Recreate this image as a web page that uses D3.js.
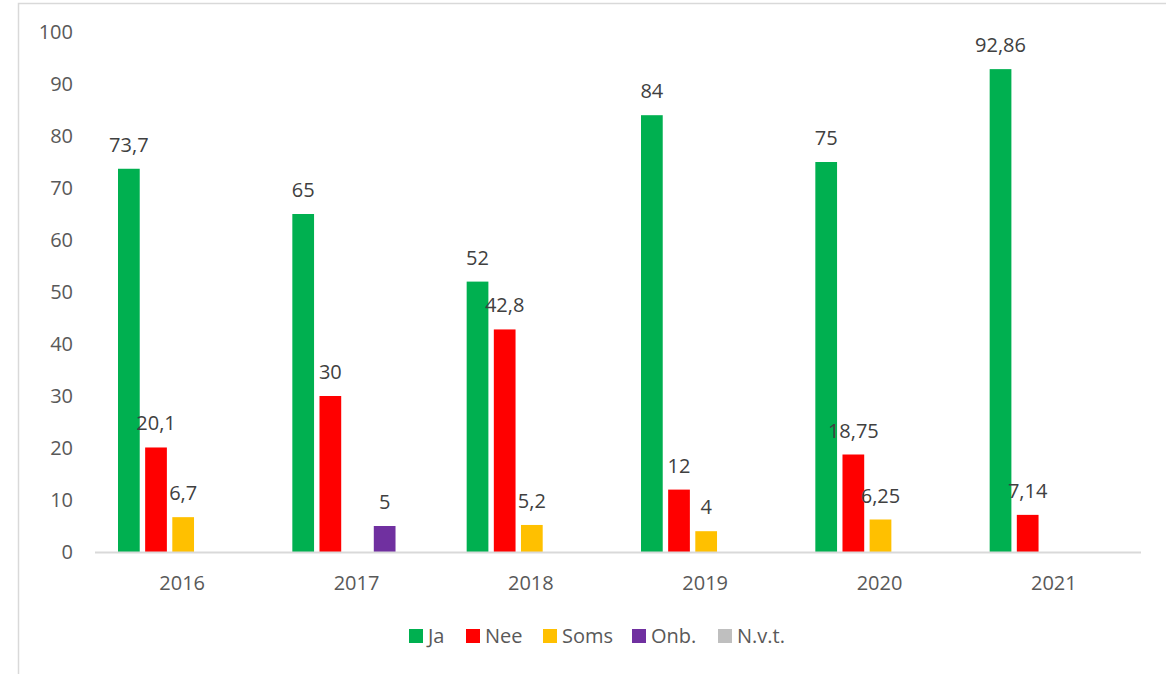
<!DOCTYPE html>
<html>
<head>
<meta charset="utf-8">
<script src="https://cdn.jsdelivr.net/npm/d3@7"></script>
<style>
  body { margin: 0; background: #fff; }
  text { font-family: "Open Sans", "Noto Sans", sans-serif; }
</style>
</head>
<body>
<div id="chart"></div>
<script>
// data
var years = ["2016", "2017", "2018", "2019", "2020", "2021"];
var seriesNames = ["Ja", "Nee", "Soms", "Onb.", "N.v.t."];
var ja = [73.7, 65, 52, 84, 75, 92.86];
var nee = [20.1, 30, 42.8, 12, 18.75, 7.14];
var soms = [6.7, null, 5.2, 4, 6.25, null];
var onb = [null, 5, null, null, null, null];
var nvt = [null, null, null, null, null, null];
var seriesColors = ["#00B050", "#FF0000", "#FFC000", "#7030A0", "#BFBFBF"];
var yTicks = [0, 10, 20, 30, 40, 50, 60, 70, 80, 90, 100];

var seriesValues = [ja, nee, soms, onb, nvt];

var W = 1166, H = 674;
var margin = {top: 32, right: 25, bottom: 122, left: 95},
    width = W - margin.left - margin.right,
    height = H - margin.top - margin.bottom;

var svg = d3.select("#chart").append("svg")
    .attr("width", W)
    .attr("height", H);

// chart frame
svg.append("rect")
    .attr("x", 18.5).attr("y", 3.5)
    .attr("width", W).attr("height", H)
    .attr("fill", "none")
    .attr("stroke", "#d9d9d9")
    .attr("stroke-width", 1.5);

var g = svg.append("g")
    .attr("transform", "translate(" + margin.left + "," + margin.top + ")");

var x0 = d3.scaleBand().domain(years).range([0, width]);
var x1 = d3.scaleBand().domain(seriesNames).range([23, x0.bandwidth() - 21]).paddingInner(0.2);
var y = d3.scaleLinear().domain([0, 100]).range([height, 0]);
var color = d3.scaleOrdinal().domain(seriesNames).range(seriesColors);

// y labels
g.selectAll(".ylab")
    .data(yTicks)
  .enter().append("text")
    .attr("x", -22)
    .attr("y", function(d) { return y(d); })
    .attr("dy", "0.36em")
    .attr("text-anchor", "end")
    .attr("font-size", "20px")
    .attr("fill", "#595959")
    .text(function(d) { return d; });

// bars
var rows = [];
years.forEach(function(yr, i) {
  seriesNames.forEach(function(s, j) {
    var v = seriesValues[j][i];
    if (v != null) rows.push({year: yr, series: s, value: v});
  });
});

g.selectAll(".bar")
    .data(rows)
  .enter().append("rect")
    .attr("x", function(d) { return x0(d.year) + x1(d.series); })
    .attr("y", function(d) { return y(d.value); })
    .attr("width", x1.bandwidth())
    .attr("height", function(d) { return height - y(d.value); })
    .attr("fill", function(d) { return color(d.series); });

// value labels
g.selectAll(".vlab")
    .data(rows)
  .enter().append("text")
    .attr("x", function(d) { return x0(d.year) + x1(d.series) + x1.bandwidth() / 2; })
    .attr("y", function(d) { return y(d.value) - 17; })
    .attr("text-anchor", "middle")
    .attr("font-size", "20px")
    .attr("fill", "#404040")
    .text(function(d) { return String(d.value).replace(".", ","); });

// x axis line
g.append("line")
    .attr("x1", 0).attr("x2", width)
    .attr("y1", height + 0.5).attr("y2", height + 0.5)
    .attr("stroke", "#d9d9d9")
    .attr("stroke-width", 2);

g.selectAll(".xlab")
    .data(years)
  .enter().append("text")
    .attr("x", function(d) { return x0(d) + x0.bandwidth() / 2; })
    .attr("y", height + 38)
    .attr("text-anchor", "middle")
    .attr("font-size", "20px")
    .attr("fill", "#595959")
    .text(function(d) { return d; });

// legend
var legendX = [409, 466, 543, 632, 718];
var legend = svg.selectAll(".leg")
    .data(seriesNames)
  .enter().append("g")
    .attr("transform", function(d, i) { return "translate(" + legendX[i] + ",636)"; });
legend.append("rect")
    .attr("x", 0).attr("y", -7)
    .attr("width", 14).attr("height", 14)
    .attr("fill", function(d) { return color(d); });
legend.append("text")
    .attr("x", 19)
    .attr("y", 0)
    .attr("dy", "0.36em")
    .attr("font-size", "20px")
    .attr("fill", "#595959")
    .text(function(d) { return d; });
</script>
</body>
</html>
